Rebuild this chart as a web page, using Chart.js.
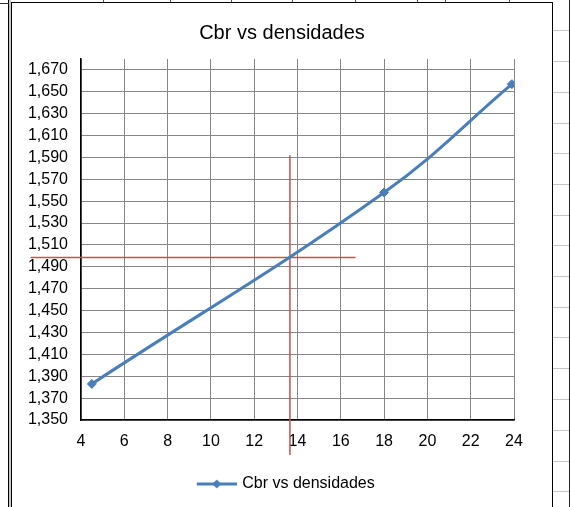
<!DOCTYPE html>
<html>
<head>
<meta charset="utf-8">
<title>Cbr vs densidades</title>
<script src="https://cdn.jsdelivr.net/npm/chart.js@4.4.1/dist/chart.umd.min.js"></script>
<style>
  html, body { margin: 0; padding: 0; background: #fff; }
  body { width: 570px; height: 507px; position: relative; overflow: hidden; }
  .ln { position: absolute; }
  #frame {
    position: absolute; left: 11px; top: 2px; width: 542px; height: 540px;
    box-sizing: border-box; border: 1px solid #000; border-bottom: none; background: #fff;
  }
  #wrap { position: absolute; left: 12px; top: 3px; width: 540px; height: 504px; }
</style>
</head>
<body>
<div id="sheet"></div>
<div id="frame"></div>
<div id="wrap"><canvas id="chart" width="540" height="504"></canvas></div>
<script>
// CBR (%) against dry density (g/cm³)
const cbrValues = [4.5, 18, 23.9];
const densityValues = [1.383, 1.558, 1.657];

// axis ticks
const xTicks = [4, 6, 8, 10, 12, 14, 16, 18, 20, 22, 24];
const yTicks = [1.35, 1.37, 1.39, 1.41, 1.43, 1.45, 1.47, 1.49, 1.51, 1.53,
                1.55, 1.57, 1.59, 1.61, 1.63, 1.65, 1.67];

// reading guides for density 1,498 -> CBR 13.65
const guideHorizX = [1.675, 16.68];
const guideHorizY = [1.4985, 1.4985];
const guideVertX = [13.65, 13.65];
const guideVertY = [1.592, 1.318];

const seriesName = 'Cbr vs densidades';
const BLUE = '#4A7EBB';
const RED = '#C8504D';

// spreadsheet backdrop around the embedded chart
(function drawSheet() {
  const sheet = document.getElementById('sheet');
  const add = (css) => {
    const d = document.createElement('div');
    d.className = 'ln';
    Object.assign(d.style, css);
    sheet.appendChild(d);
  };
  add({ left: '8px', top: '0', width: '1px', height: '507px', background: '#000' });
  add({ left: '9px', top: '0', width: '2px', height: '507px', background: '#c8c8c8' });
  add({ left: '0', top: '3px', width: '9px', height: '1px', background: '#333' });
  add({ left: '569px', top: '0', width: '1px', height: '507px', background: '#222' });
  [30, 61, 92, 123, 153, 184, 215, 245, 276, 307, 337, 368, 399, 430, 461, 491].forEach(y =>
    add({ left: '553px', top: y + 'px', width: '16px', height: '1px', background: '#c4c4c4' }));
  [103, 170, 231, 292, 355, 417, 445, 509].forEach(x =>
    add({ left: x + 'px', top: '0', width: '1px', height: '2px', background: '#555' }));
})();

// legend swatch: line with a diamond marker
function legendSwatch() {
  const c = document.createElement('canvas');
  c.width = 50; c.height = 12;
  const g = c.getContext('2d');
  g.strokeStyle = BLUE; g.lineWidth = 3;
  g.beginPath(); g.moveTo(10, 6); g.lineTo(50, 6); g.stroke();
  g.fillStyle = BLUE;
  g.beginPath(); g.moveTo(30, 1.5); g.lineTo(34.5, 6); g.lineTo(30, 10.5); g.lineTo(25.5, 6); g.closePath(); g.fill();
  return c;
}
const swatch = legendSwatch();

Chart.defaults.font.family = "'Liberation Sans', Arial, sans-serif";
Chart.defaults.color = '#000';

const fmt = v => v.toFixed(3).replace('.', ',');

new Chart(document.getElementById('chart'), {
  type: 'line',
  data: {
    datasets: [
      {
        label: seriesName,
        data: cbrValues.map((x, i) => ({ x, y: densityValues[i] })),
        borderColor: BLUE,
        backgroundColor: BLUE,
        borderWidth: 3,
        tension: 0.4,
        pointStyle: 'rectRot',
        pointRadius: 4.5,
        pointBorderWidth: 1,
        pointBackgroundColor: BLUE,
        pointBorderColor: BLUE,
        order: 0
      },
      {
        label: 'guía horizontal',
        data: guideHorizX.map((x, i) => ({ x, y: guideHorizY[i] })),
        borderColor: RED, borderWidth: 1.5, pointRadius: 0, tension: 0, clip: false, order: 1
      },
      {
        label: 'guía vertical',
        data: guideVertX.map((x, i) => ({ x, y: guideVertY[i] })),
        borderColor: RED, borderWidth: 1.5, pointRadius: 0, tension: 0, clip: false, order: 1
      }
    ]
  },
  options: {
    responsive: false,
    devicePixelRatio: 1,
    animation: false,
    events: [],
    layout: { padding: { left: 0, right: 0, top: 0, bottom: 5 } },
    scales: {
      x: {
        type: 'linear',
        min: 4, max: 24,
        afterBuildTicks: s => { s.ticks = xTicks.map(v => ({ value: v })); },
        afterFit: s => { s.height = 46; },
        ticks: { padding: 12, font: { size: 16 }, color: '#000', maxRotation: 0, autoSkip: false,
                 callback: v => String(v) },
        grid: { color: '#868686', lineWidth: 1, drawTicks: false },
        border: { color: '#000', width: 1.5 }
      },
      y: {
        type: 'linear',
        position: 'left',
        min: 1.35, max: 1.68,
        afterBuildTicks: s => { s.ticks = yTicks.map(v => ({ value: v })); },
        afterFit: s => { s.width = 69; },
        ticks: { padding: 13, font: { size: 16 }, color: '#000', autoSkip: false, callback: v => fmt(v) },
        grid: { color: '#868686', lineWidth: 1, drawTicks: false },
        border: { color: '#000', width: 1.5 }
      },
      yRight: {
        type: 'linear',
        position: 'right',
        display: true,
        afterFit: s => { s.width = 38; },
        ticks: { display: false },
        grid: { display: false, drawOnChartArea: false, drawTicks: false },
        border: { display: false }
      }
    },
    plugins: {
      title: {
        display: true,
        text: 'Cbr vs densidades',
        font: { size: 20, weight: 'normal' },
        color: '#000',
        padding: { top: 18, bottom: 14 }
      },
      legend: {
        display: true,
        position: 'bottom',
        labels: {
          usePointStyle: true,
          pointStyleWidth: 45,
          padding: 10,
          font: { size: 16 },
          color: '#000',
          filter: item => item.datasetIndex === 0,
          generateLabels: chart => [{
            text: seriesName,
            datasetIndex: 0,
            pointStyle: swatch,
            fillStyle: BLUE,
            strokeStyle: BLUE,
            lineWidth: 0,
            hidden: false
          }]
        }
      },
      tooltip: { enabled: false }
    }
  }
});
</script>
</body>
</html>
